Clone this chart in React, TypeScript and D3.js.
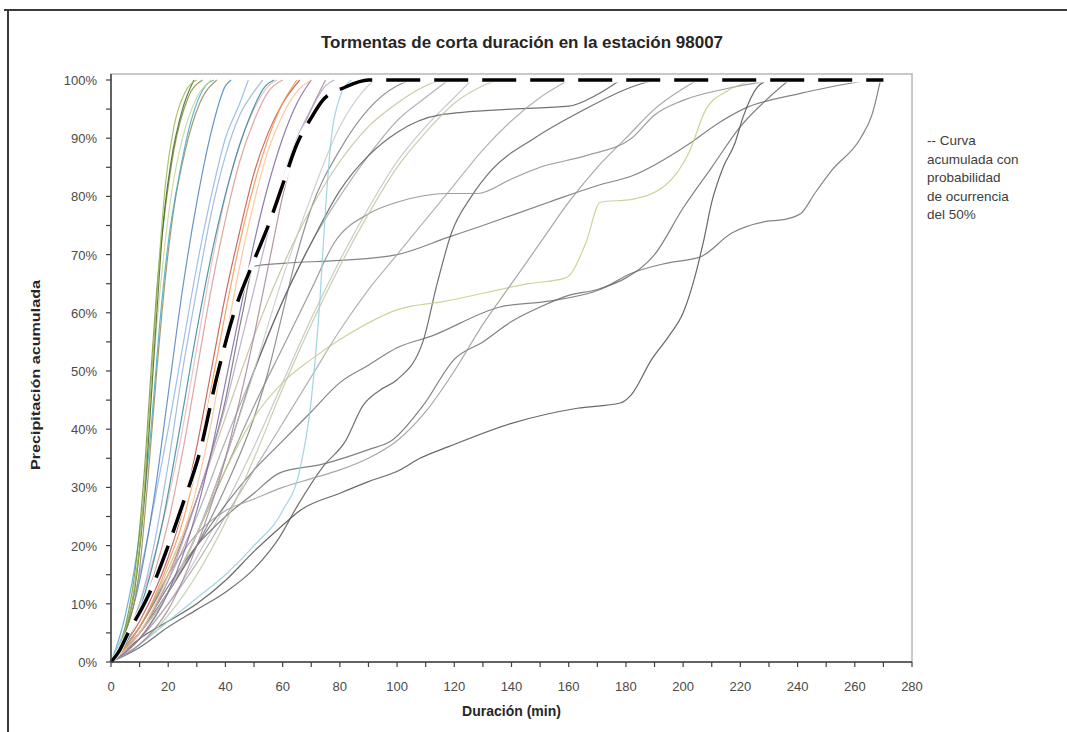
import React from "react";
import * as d3 from "d3";

type Pt = [number, number];

// x ticks (min) and y ticks (%)
const xTicks: number[] = [0, 20, 40, 60, 80, 100, 120, 140, 160, 180, 200, 220, 240, 260, 280];
const yTicks: number[] = [0, 10, 20, 30, 40, 50, 60, 70, 80, 90, 100];

// Individual storms: [duration (min), cumulative precipitation (%)]
const s01: Pt[] = [[0,0],[4,4],[8,12],[11,25],[13,40],[15,55],[17,70],[19,82],[22,92],[26,98],[30,100]];
const s02: Pt[] = [[0,0],[5,5],[9,15],[12,30],[14,45],[16,60],[18,74],[21,86],[25,95],[29,100]];
const s03: Pt[] = [[0,0],[5,6],[9,18],[12,35],[14,50],[16,64],[19,78],[22,88],[27,97],[32,100]];
const s04: Pt[] = [[0,0],[6,7],[10,20],[13,38],[15,52],[18,68],[21,80],[25,90],[30,97],[35,100]];
const s05: Pt[] = [[0,0],[5,8],[10,22],[14,40],[17,58],[20,72],[24,84],[28,93],[33,99],[36,100]];
const s06: Pt[] = [[0,0],[5,5],[10,16],[13,32],[16,50],[19,66],[22,78],[26,88],[31,96],[37,100]];
const s07: Pt[] = [[0,0],[5,5],[10,14],[15,28],[20,46],[25,64],[30,79],[35,91],[40,99],[42,100]];
const s08: Pt[] = [[0,0],[5,4],[10,10],[15,20],[20,34],[25,50],[30,64],[35,77],[40,87],[45,94],[50,98],[53,100]];
const s09: Pt[] = [[0,0],[6,4],[12,12],[18,24],[24,40],[30,57],[36,72],[42,84],[48,93],[54,99],[57,100]];
const s10: Pt[] = [[0,0],[5,6],[10,15],[15,27],[20,40],[25,54],[30,68],[35,80],[40,90],[45,96],[48,100]];
const s11: Pt[] = [[0,0],[5,4],[10,10],[15,18],[20,28],[25,40],[30,54],[35,68],[40,80],[45,89],[50,95],[55,99],[58,100]];
const s12: Pt[] = [[0,0],[8,6],[15,15],[20,24],[25,36],[30,50],[35,64],[40,76],[45,86],[50,93],[55,98],[60,100]];
const s13: Pt[] = [[0,0],[10,6],[20,17],[25,24],[30,34],[35,47],[40,60],[45,72],[50,82],[55,90],[60,96],[65,100]];
const s14: Pt[] = [[0,0],[10,7],[20,18],[25,26],[30,37],[35,50],[40,63],[45,74],[50,84],[55,91],[60,96],[66,100]];
const s15: Pt[] = [[0,0],[10,5],[20,15],[30,30],[35,41],[40,55],[45,68],[50,79],[55,88],[60,94],[65,98],[70,100]];
const s16: Pt[] = [[0,0],[10,4],[20,12],[30,26],[35,36],[40,48],[45,60],[50,72],[55,82],[60,90],[65,96],[70,100]];
const s17: Pt[] = [[0,0],[10,5],[20,14],[30,28],[40,44],[45,54],[50,64],[55,74],[60,83],[65,90],[70,95],[75,99],[78,100]];
const s18: Pt[] = [[0,0],[10,3],[20,9],[30,20],[40,35],[45,45],[50,56],[55,68],[60,80],[65,89],[70,95],[75,100]];
const s19: Pt[] = [[0,0],[10,3],[20,7],[30,11],[40,15],[50,20],[60,26],[66,33],[70,45],[73,62],[75,78],[77,90],[80,97],[84,100]];
const s20: Pt[] = [[0,0],[10,5],[20,12],[30,20],[40,30],[50,42],[55,50],[60,60],[65,70],[70,78],[80,88],[90,95],[100,99],[105,100]];
const s21: Pt[] = [[0,0],[10,5],[20,14],[30,25],[40,38],[50,50],[60,62],[70,72],[80,80],[90,87],[100,93],[110,97],[118,100]];
const s22: Pt[] = [[0,0],[10,4],[20,10],[30,18],[40,27],[50,37],[60,48],[70,59],[80,69],[90,78],[100,86],[110,92],[120,97],[126,100]];
const s23: Pt[] = [[0,0],[10,6],[20,16],[30,28],[40,42],[50,56],[60,68],[70,78],[80,86],[90,92],[100,96],[110,99],[115,100]];
const s24: Pt[] = [[0,0],[10,5],[20,12],[30,22],[40,35],[50,50],[60,62],[70,72],[80,81],[90,87],[100,91],[115,94],[140,95],[160,95.5],[170,97.5],[178,100]];
const s25: Pt[] = [[0,0],[10,6],[20,15],[30,28],[40,45],[46,60],[50,68],[60,68.5],[80,69],[100,70],[118,73],[130,75],[153,79],[171,82],[182,83.5],[202,89],[212,92.5],[221,95],[241,97.7],[265,100]];
const s26: Pt[] = [[0,0],[10,2.5],[20,6],[30,9],[40,12],[50,16],[59,21.5],[65,26.7],[74,33.5],[82,38],[88,44],[94,46.7],[100,48.5],[109,55],[114,65],[119,73.7],[126,80],[133,84.5],[148,90],[165,94.8],[182,98.8],[190,100]];
const s27: Pt[] = [[0,0],[10,5],[20,12],[30,22],[40,33],[50,44],[60,54],[70,64],[78,72],[90,77],[100,79],[118,80.5],[128,80.5],[140,83],[150,85],[166,87],[182,90],[190,94],[200,96.5],[215,98.5],[232,100]];
const s28: Pt[] = [[0,0],[10,5],[20,13],[30,20],[40,25],[50,29],[59,32.5],[74,34],[90,36.5],[98,38],[109,44],[120,52],[130,55],[140,58.5],[150,61],[160,63],[170,64],[180,66],[190,70],[200,78],[210,85],[220,92],[230,97],[237,100]];
const s29: Pt[] = [[0,0],[10,4],[20,12],[30,22],[40,33],[50,42],[60,48],[70,52],[82,56],[100,60.5],[117,62],[146,65],[159,66],[166,72],[171,79],[182,79.5],[194,82],[202,87.5],[208,95],[215,98],[225,100]];
const s30: Pt[] = [[0,0],[5,2],[10,4],[20,7],[30,10],[40,14],[50,19],[60,23.5],[66,26],[80,29],[90,31],[101,33],[108,35],[118,37],[140,41],[163,43.6],[178,44.5],[182,46],[189,52],[195,56],[200,60],[204,66],[207,72],[210,79],[214,85],[218,89],[221,93.7],[226,98.8],[230,100]];
const s31: Pt[] = [[0,0],[10,5],[20,12],[30,20],[40,27],[50,33],[60,38],[70,43],[80,48],[90,51],[100,54],[112,56],[136,61],[153,62],[171,64],[182,66.8],[194,68.5],[206,69.6],[217,73.7],[229,75.7],[235,76],[241,77],[246,80.5],[252,84.5],[262,90],[266,94],[269,100]];
const s32: Pt[] = [[0,0],[10,6],[20,15],[30,22],[40,26],[50,28],[60,30],[70,31.5],[80,33],[90,35],[100,38],[110,43],[120,50],[130,58],[140,65],[150,72],[160,79],[170,85],[180,90],[190,95],[205,100]];
const s33: Pt[] = [[0,0],[10,4],[20,10],[30,17],[40,25],[50,33],[60,41],[70,49],[80,57],[90,64],[100,70],[110,76],[120,82],[130,88],[140,93],[150,97],[160,100]];
const s34: Pt[] = [[0,0],[10,5],[20,12],[30,22],[40,35],[50,50],[60,66],[70,80],[80,92],[88,98],[92,100]];
const s35: Pt[] = [[0,0],[10,3],[20,8],[30,15],[40,24],[50,35],[60,47],[70,58],[80,68],[90,77],[100,85],[110,91],[120,96],[130,99],[135,100]];

// Cumulative curve with 50% probability of occurrence
const median50: Pt[] = [[0,0],[3,2],[6,5],[10,8.5],[13.6,12],[20,20],[25,27],[31,36],[37,49],[43,60],[50,69],[55,75],[60,82],[65,89],[70,93.5],[74,96.5],[82,98.8],[90,100],[270,100]];

const storms: Pt[][] = [s20,s21,s22,s23,s24,s25,s26,s27,s28,s29,s30,s31,s32,s33,s34,s35,s19,s18,s17,s16,s15,s14,s13,s12,s11,s10,s09,s08,s07,s06,s05,s04,s03,s02,s01];
const stormColors: string[] = [
  "#7f7f7f","#a6a6a6","#bfbfbf","#c4bd97","#595959","#6f6f6f","#595959","#8c8c8c","#6b6b6b","#c9c98a",
  "#4d4d4d","#6f6f6f","#999999","#a6a6a6","#c8c8c8","#b8c9a0","#93cddd","#a5849e","#b2a1c7","#8064a2",
  "#fac090","#c0504d","#f79646","#d99694","#e6b9b8","#8eb4e3","#31859c","#95b3d7","#4f81bd","#948a54",
  "#4bacc6","#c3d69b","#77933c","#4f6228","#9bbb59"
];

const legendLines: string[] = ["-- Curva", "acumulada con", "probabilidad", "de ocurrencia", "del 50%"];

export default function App() {
  const W = 1067, H = 732;
  const x = d3.scaleLinear().domain([0, 280]).range([111, 912]);
  const y = d3.scaleLinear().domain([0, 100]).range([662, 80]);
  const line = d3.line<Pt>().x(d => x(d[0])).y(d => y(d[1])).curve(d3.curveMonotoneX);
  const plotTop = 74;
  const xMinor = d3.range(0, 281, 10);
  const yMinor = d3.range(0, 101, 5);
  const font = "'Liberation Sans', Arial, sans-serif";
  return (
    <svg width={W} height={H} style={{ position: "absolute", left: 0, top: 0, background: "#fff" }} fontFamily={font}>
      <rect x={0} y={0} width={W} height={H} fill="#fff" />
      {/* outer frame */}
      <line x1={4} x2={W} y1={10} y2={10} stroke="#3a3a3a" strokeWidth={2} />
      <line x1={8} x2={8} y1={10} y2={H} stroke="#3a3a3a" strokeWidth={2} />
      {/* plot border */}
      <rect x={x(0)} y={plotTop} width={x(280) - x(0)} height={y(0) - plotTop} fill="none" stroke="#b8b8b8" strokeWidth={1.5} />
      {/* title */}
      <text x={522} y={48} textAnchor="middle" fontSize={17} fontWeight="bold" fill="#262626">Tormentas de corta duración en la estación 98007</text>
      {/* storms */}
      <g fill="none" strokeWidth={1.2} strokeOpacity={0.85}>
        {storms.map((s, i) => (
          <path key={i} d={line(s) || ""} stroke={stormColors[i % stormColors.length]} />
        ))}
      </g>
      {/* median */}
      <path d={line(median50) || ""} fill="none" stroke="#fff" strokeWidth={5} />
      <path d={line(median50) || ""} fill="none" stroke="#000" strokeWidth={3.5} strokeDasharray="34,14" />
      {/* axes */}
      <line x1={x(0)} x2={x(0)} y1={plotTop} y2={y(0)} stroke="#404040" strokeWidth={1.5} />
      <line x1={x(0)} x2={x(280)} y1={y(0)} y2={y(0)} stroke="#404040" strokeWidth={1.5} />
      {yMinor.map(v => (
        <line key={"yt" + v} x1={x(0) - 5} x2={x(0)} y1={y(v)} y2={y(v)} stroke="#404040" strokeWidth={1.2} />
      ))}
      {xMinor.map(v => (
        <line key={"xt" + v} x1={x(v)} x2={x(v)} y1={y(0)} y2={y(0) + 5} stroke="#404040" strokeWidth={1.2} />
      ))}
      {yTicks.map(v => (
        <text key={"yl" + v} x={x(0) - 14} y={y(v) + 5} textAnchor="end" fontSize={13} fill="#4a4a4a">{v + "%"}</text>
      ))}
      {xTicks.map(v => (
        <text key={"xl" + v} x={x(v)} y={y(0) + 29} textAnchor="middle" fontSize={13} fill="#4a4a4a">{v}</text>
      ))}
      <text x={x(140)} y={716} textAnchor="middle" fontSize={14} fontWeight="bold" fill="#262626">Duración (min)</text>
      <text transform={`translate(40, ${y(50) + 4}) rotate(-90)`} textAnchor="middle" fontSize={13} fontWeight="bold" fill="#262626" textLength={190} lengthAdjust="spacingAndGlyphs">Precipitación acumulada</text>
      {/* legend */}
      {legendLines.map((t, i) => (
        <text key={"lg" + i} x={927} y={145 + i * 18.5} fontSize={13.5} fill="#404040">{t}</text>
      ))}
    </svg>
  );
}
